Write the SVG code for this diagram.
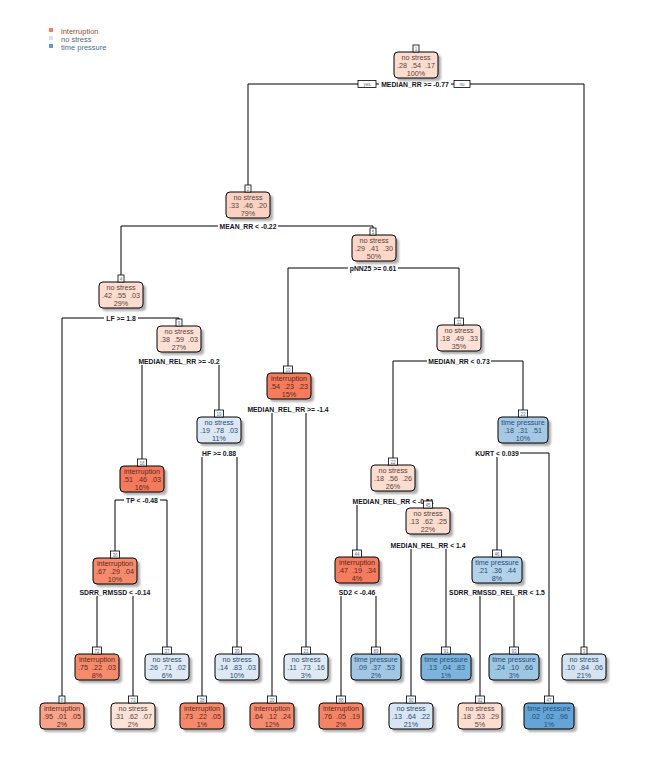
<svg xmlns="http://www.w3.org/2000/svg" width="647" height="775" viewBox="0 0 647 775">
<style>
.bx{stroke:#000;stroke-width:1}
.sh{fill:#9a9a9a;opacity:0.8;filter:url(#blur)}
.nb{fill:#fff;stroke:#000;stroke-width:0.8}
.nn{font-family:"Liberation Sans",Arial,sans-serif;font-size:4.5px;fill:#55709a;text-anchor:middle}
.t{font-family:"Liberation Sans",Arial,sans-serif;font-size:7.2px;text-anchor:middle;white-space:pre}
.ti{fill:#5b2a1c}.tn{fill:#5a4540}.tb{fill:#2b4c74}
.sp{font-family:"Liberation Sans",Arial,sans-serif;font-weight:bold;font-size:6.8px;text-anchor:middle;fill:#141428}
.ln{stroke:#000;stroke-width:1;fill:none}
.lb{fill:#fff}
.yn{font-family:"Liberation Sans",Arial,sans-serif;font-size:4.5px;fill:#55709a;text-anchor:middle}
.lg{font-family:"Liberation Sans",Arial,sans-serif;font-size:7.5px}
</style>
<defs>
<filter id="blur" x="-20%" y="-20%" width="140%" height="140%"><feGaussianBlur stdDeviation="1.3"/></filter>
</defs>
<rect width="647" height="775" fill="#fff"/>

<g id="legend">
<rect x="49" y="28" width="4" height="4" fill="#F47B5E"/>
<text class="lg" x="61" y="34" fill="#9A4A30">interruption</text>
<rect x="49" y="36" width="4" height="4" fill="#D4E3F2"/>
<text class="lg" x="61" y="42" fill="#5A6475">no stress</text>
<rect x="49" y="44" width="4" height="4" fill="#5A9ED6"/>
<text class="lg" x="61" y="50" fill="#3D6E9E">time pressure</text>
</g>

<g id="connectors">
<path class="ln" d="M248 84H584M248 84V185M584 84V647"/>
<path class="ln" d="M121 226H373M121 226V275M373 226V228"/>
<path class="ln" d="M62 318H179M62 318V696M179 318V319"/>
<path class="ln" d="M142 361H219M142 361V459M219 361V410"/>
<path class="ln" d="M115 500H167M115 500V551M167 500V647"/>
<path class="ln" d="M97 592H133M97 592V647M133 592V696"/>
<path class="ln" d="M202 453H237M202 453V696M237 453V647"/>
<path class="ln" d="M288 268H459M288 268V366M459 268V318"/>
<path class="ln" d="M272 409H306M272 409V696M306 409V647"/>
<path class="ln" d="M393 361H523M393 361V458M523 361V410"/>
<path class="ln" d="M357 501H428M357 501V550M428 501V501"/>
<path class="ln" d="M411 545H446M411 545V696M446 545V647"/>
<path class="ln" d="M341 592H376M341 592V696M376 592V647"/>
<path class="ln" d="M497 453H549M497 453V550M549 453V696"/>
<path class="ln" d="M480 592H514M480 592V696M514 592V647"/>

<rect class="lb" x="379" y="80" width="72" height="8"/>
<text class="sp" x="415" y="86.5">MEDIAN_RR &gt;= -0.77</text>
<rect class="nb" x="358" y="80.5" width="18" height="7"/>
<text class="yn" x="367" y="86">yes</text>
<rect class="nb" x="454" y="80.5" width="16" height="7"/>
<text class="yn" x="462" y="86">no</text>

<rect class="lb" x="218" y="222" width="60" height="8"/>
<text class="sp" x="248" y="228.5">MEAN_RR &lt; -0.22</text>
<rect class="lb" x="104" y="314" width="34" height="8"/>
<text class="sp" x="121" y="320.5">LF &gt;= 1.8</text>
<rect class="lb" x="136" y="357" width="86" height="8"/>
<text class="sp" x="179" y="363.5">MEDIAN_REL_RR &gt;= -0.2</text>
<rect class="lb" x="124" y="496" width="36" height="8"/>
<text class="sp" x="142" y="502.5">TP &lt; -0.48</text>
<rect class="lb" x="79" y="588" width="72" height="8"/>
<text class="sp" x="115" y="594.5">SDRR_RMSSD &lt; -0.14</text>
<rect class="lb" x="200" y="449" width="38" height="8"/>
<text class="sp" x="219" y="455.5">HF &gt;= 0.88</text>
<rect class="lb" x="348" y="264" width="50" height="8"/>
<text class="sp" x="373" y="270.5">pNN25 &gt;= 0.61</text>
<rect class="lb" x="245" y="405" width="86" height="8"/>
<text class="sp" x="288" y="411.5">MEDIAN_REL_RR &gt;= -1.4</text>
<rect class="lb" x="427" y="357" width="64" height="8"/>
<text class="sp" x="459" y="363.5">MEDIAN_RR &lt; 0.73</text>
<rect class="lb" x="351" y="497" width="84" height="8"/>
<text class="sp" x="393" y="503.5">MEDIAN_REL_RR &lt; -0.51</text>
<rect class="lb" x="389" y="541" width="78" height="8"/>
<text class="sp" x="428" y="547.5">MEDIAN_REL_RR &lt; 1.4</text>
<rect class="lb" x="337" y="588" width="40" height="8"/>
<text class="sp" x="357" y="594.5">SD2 &lt; -0.46</text>
<rect class="lb" x="474" y="449" width="46" height="8"/>
<text class="sp" x="497" y="455.5">KURT &lt; 0.039</text>
<rect class="lb" x="450" y="588" width="94" height="8"/>
<text class="sp" x="497" y="594.5">SDRR_RMSSD_REL_RR &lt; 1.5</text>
</g>

<g id="node1">
<rect class="sh" x="397" y="55" width="44" height="26" rx="4"/>
<rect class="bx" x="394" y="52" width="44" height="26" rx="4" fill="#FCDCCF"/>
<rect class="nb" x="413" y="45" width="6" height="7"/><text class="nn" x="416" y="50.5">1</text>
<text class="t tn" x="416" y="59.5">no stress</text><text class="t tn" x="416" y="67.5">.28  .54  .17</text><text class="t tn" x="416" y="75.5">100%</text>
</g>
<g id="node2">
<rect class="sh" x="229" y="195" width="44" height="26" rx="4"/>
<rect class="bx" x="226" y="192" width="44" height="26" rx="4" fill="#FBD2C2"/>
<rect class="nb" x="245" y="185" width="6" height="7"/><text class="nn" x="248" y="190.5">2</text>
<text class="t tn" x="248" y="199.5">no stress</text><text class="t tn" x="248" y="207.5">.33  .46  .20</text><text class="t tn" x="248" y="215.5">79%</text>
</g>
<g id="node3">
<rect class="sh" x="565" y="657" width="44" height="26" rx="4"/>
<rect class="bx" x="562" y="654" width="44" height="26" rx="4" fill="#D6E4F2"/>
<rect class="nb" x="581" y="647" width="6" height="7"/><text class="nn" x="584" y="652.5">3</text>
<text class="t tb" x="584" y="661.5">no stress</text><text class="t tb" x="584" y="669.5">.10  .84  .06</text><text class="t tb" x="584" y="677.5">21%</text>
</g>
<g id="node4">
<rect class="sh" x="102" y="285" width="44" height="26" rx="4"/>
<rect class="bx" x="99" y="282" width="44" height="26" rx="4" fill="#FCDCCE"/>
<rect class="nb" x="118" y="275" width="6" height="7"/><text class="nn" x="121" y="280.5">4</text>
<text class="t tn" x="121" y="289.5">no stress</text><text class="t tn" x="121" y="297.5">.42  .55  .03</text><text class="t tn" x="121" y="305.5">29%</text>
</g>
<g id="node5">
<rect class="sh" x="355" y="238" width="44" height="26" rx="4"/>
<rect class="bx" x="352" y="235" width="44" height="26" rx="4" fill="#FCD6C6"/>
<rect class="nb" x="370" y="228" width="6" height="7"/><text class="nn" x="373" y="233.5">5</text>
<text class="t tn" x="374" y="242.5">no stress</text><text class="t tn" x="374" y="250.5">.29  .41  .30</text><text class="t tn" x="374" y="258.5">50%</text>
</g>
<g id="node8">
<rect class="sh" x="43" y="706" width="44" height="26" rx="4"/>
<rect class="bx" x="40" y="703" width="44" height="26" rx="4" fill="#F8A48B"/>
<rect class="nb" x="59" y="696" width="6" height="7"/><text class="nn" x="62" y="701.5">8</text>
<text class="t ti" x="62" y="710.5">interruption</text><text class="t ti" x="62" y="718.5">.95  .01  .05</text><text class="t ti" x="62" y="726.5">2%</text>
</g>
<g id="node9">
<rect class="sh" x="160" y="329" width="44" height="26" rx="4"/>
<rect class="bx" x="157" y="326" width="44" height="26" rx="4" fill="#FDE0D4"/>
<rect class="nb" x="176" y="319" width="6" height="7"/><text class="nn" x="179" y="324.5">9</text>
<text class="t tn" x="179" y="333.5">no stress</text><text class="t tn" x="179" y="341.5">.38  .59  .03</text><text class="t tn" x="179" y="349.5">27%</text>
</g>
<g id="node10">
<rect class="sh" x="270" y="376" width="44" height="26" rx="4"/>
<rect class="bx" x="267" y="373" width="44" height="26" rx="4" fill="#F47B5E"/>
<rect class="nb" x="283.5" y="366" width="9" height="7"/><text class="nn" x="288" y="371.5">10</text>
<text class="t ti" x="289" y="380.5">interruption</text><text class="t ti" x="289" y="388.5">.54  .23  .23</text><text class="t ti" x="289" y="396.5">15%</text>
</g>
<g id="node11">
<rect class="sh" x="440" y="328" width="44" height="26" rx="4"/>
<rect class="bx" x="437" y="325" width="44" height="26" rx="4" fill="#FDE1D6"/>
<rect class="nb" x="454.5" y="318" width="9" height="7"/><text class="nn" x="459" y="323.5">11</text>
<text class="t tn" x="459" y="332.5">no stress</text><text class="t tn" x="459" y="340.5">.18  .49  .33</text><text class="t tn" x="459" y="348.5">35%</text>
</g>
<g id="node18">
<rect class="sh" x="123" y="469" width="44" height="26" rx="4"/>
<rect class="bx" x="120" y="466" width="44" height="26" rx="4" fill="#F47A5D"/>
<rect class="nb" x="137.5" y="459" width="9" height="7"/><text class="nn" x="142" y="464.5">18</text>
<text class="t ti" x="142" y="473.5">interruption</text><text class="t ti" x="142" y="481.5">.51  .46  .03</text><text class="t ti" x="142" y="489.5">16%</text>
</g>
<g id="node19">
<rect class="sh" x="200" y="420" width="44" height="26" rx="4"/>
<rect class="bx" x="197" y="417" width="44" height="26" rx="4" fill="#DCE7F4"/>
<rect class="nb" x="214.5" y="410" width="9" height="7"/><text class="nn" x="219" y="415.5">19</text>
<text class="t tb" x="219" y="424.5">no stress</text><text class="t tb" x="219" y="432.5">.19  .78  .03</text><text class="t tb" x="219" y="440.5">11%</text>
</g>
<g id="node20">
<rect class="sh" x="253" y="706" width="44" height="26" rx="4"/>
<rect class="bx" x="250" y="703" width="44" height="26" rx="4" fill="#F58C70"/>
<rect class="nb" x="267.5" y="696" width="9" height="7"/><text class="nn" x="272" y="701.5">20</text>
<text class="t ti" x="272" y="710.5">interruption</text><text class="t ti" x="272" y="718.5">.64  .12  .24</text><text class="t ti" x="272" y="726.5">12%</text>
</g>
<g id="node21">
<rect class="sh" x="287" y="657" width="44" height="26" rx="4"/>
<rect class="bx" x="284" y="654" width="44" height="26" rx="4" fill="#DFE9F4"/>
<rect class="nb" x="301.5" y="647" width="9" height="7"/><text class="nn" x="306" y="652.5">21</text>
<text class="t tb" x="306" y="661.5">no stress</text><text class="t tb" x="306" y="669.5">.11  .73  .16</text><text class="t tb" x="306" y="677.5">3%</text>
</g>
<g id="node22">
<rect class="sh" x="374" y="468" width="44" height="26" rx="4"/>
<rect class="bx" x="371" y="465" width="44" height="26" rx="4" fill="#FCDCCE"/>
<rect class="nb" x="388.5" y="458" width="9" height="7"/><text class="nn" x="393" y="463.5">22</text>
<text class="t tn" x="393" y="472.5">no stress</text><text class="t tn" x="393" y="480.5">.18  .56  .26</text><text class="t tn" x="393" y="488.5">26%</text>
</g>
<g id="node23">
<rect class="sh" x="501" y="420" width="50" height="26" rx="4"/>
<rect class="bx" x="498" y="417" width="50" height="26" rx="4" fill="#A5C9E5"/>
<rect class="nb" x="518.5" y="410" width="9" height="7"/><text class="nn" x="523" y="415.5">23</text>
<text class="t tb" x="523" y="424.5">time pressure</text><text class="t tb" x="523" y="432.5">.18  .31  .51</text><text class="t tb" x="523" y="440.5">10%</text>
</g>
<g id="node36">
<rect class="sh" x="96" y="561" width="44" height="26" rx="4"/>
<rect class="bx" x="93" y="558" width="44" height="26" rx="4" fill="#F58A6D"/>
<rect class="nb" x="110.5" y="551" width="9" height="7"/><text class="nn" x="115" y="556.5">36</text>
<text class="t ti" x="115" y="565.5">interruption</text><text class="t ti" x="115" y="573.5">.67  .29  .04</text><text class="t ti" x="115" y="581.5">10%</text>
</g>
<g id="node37">
<rect class="sh" x="148" y="657" width="44" height="26" rx="4"/>
<rect class="bx" x="145" y="654" width="44" height="26" rx="4" fill="#E0EAF5"/>
<rect class="nb" x="162.5" y="647" width="9" height="7"/><text class="nn" x="167" y="652.5">37</text>
<text class="t tb" x="167" y="661.5">no stress</text><text class="t tb" x="167" y="669.5">.26  .71  .02</text><text class="t tb" x="167" y="677.5">6%</text>
</g>
<g id="node38">
<rect class="sh" x="183" y="706" width="44" height="26" rx="4"/>
<rect class="bx" x="180" y="703" width="44" height="26" rx="4" fill="#F5896B"/>
<rect class="nb" x="197.5" y="696" width="9" height="7"/><text class="nn" x="202" y="701.5">38</text>
<text class="t ti" x="202" y="710.5">interruption</text><text class="t ti" x="202" y="718.5">.73  .22  .05</text><text class="t ti" x="202" y="726.5">1%</text>
</g>
<g id="node39">
<rect class="sh" x="218" y="657" width="44" height="26" rx="4"/>
<rect class="bx" x="215" y="654" width="44" height="26" rx="4" fill="#DCE8F4"/>
<rect class="nb" x="232.5" y="647" width="9" height="7"/><text class="nn" x="237" y="652.5">39</text>
<text class="t tb" x="237" y="661.5">no stress</text><text class="t tb" x="237" y="669.5">.14  .83  .03</text><text class="t tb" x="237" y="677.5">10%</text>
</g>
<g id="node44">
<rect class="sh" x="338" y="560" width="44" height="26" rx="4"/>
<rect class="bx" x="335" y="557" width="44" height="26" rx="4" fill="#F47B5E"/>
<rect class="nb" x="352.5" y="550" width="9" height="7"/><text class="nn" x="357" y="555.5">44</text>
<text class="t ti" x="357" y="564.5">interruption</text><text class="t ti" x="357" y="572.5">.47  .19  .34</text><text class="t ti" x="357" y="580.5">4%</text>
</g>
<g id="node45">
<rect class="sh" x="409" y="511" width="44" height="26" rx="4"/>
<rect class="bx" x="406" y="508" width="44" height="26" rx="4" fill="#FCDCCE"/>
<rect class="nb" x="423.5" y="501" width="9" height="7"/><text class="nn" x="428" y="506.5">45</text>
<text class="t tn" x="428" y="515.5">no stress</text><text class="t tn" x="428" y="523.5">.13  .62  .25</text><text class="t tn" x="428" y="531.5">22%</text>
</g>
<g id="node46">
<rect class="sh" x="475" y="560" width="50" height="26" rx="4"/>
<rect class="bx" x="472" y="557" width="50" height="26" rx="4" fill="#B3D2EA"/>
<rect class="nb" x="492.5" y="550" width="9" height="7"/><text class="nn" x="497" y="555.5">46</text>
<text class="t tb" x="497" y="564.5">time pressure</text><text class="t tb" x="497" y="572.5">.21  .36  .44</text><text class="t tb" x="497" y="580.5">8%</text>
</g>
<g id="node47">
<rect class="sh" x="527" y="706" width="50" height="26" rx="4"/>
<rect class="bx" x="524" y="703" width="50" height="26" rx="4" fill="#64A4D7"/>
<rect class="nb" x="544.5" y="696" width="9" height="7"/><text class="nn" x="549" y="701.5">47</text>
<text class="t tb" x="549" y="710.5">time pressure</text><text class="t tb" x="549" y="718.5">.02  .02  .96</text><text class="t tb" x="549" y="726.5">1%</text>
</g>
<g id="node72">
<rect class="sh" x="78" y="657" width="44" height="26" rx="4"/>
<rect class="bx" x="75" y="654" width="44" height="26" rx="4" fill="#F58A6D"/>
<rect class="nb" x="92.5" y="647" width="9" height="7"/><text class="nn" x="97" y="652.5">72</text>
<text class="t ti" x="97" y="661.5">interruption</text><text class="t ti" x="97" y="669.5">.75  .22  .03</text><text class="t ti" x="97" y="677.5">8%</text>
</g>
<g id="node73">
<rect class="sh" x="114" y="706" width="44" height="26" rx="4"/>
<rect class="bx" x="111" y="703" width="44" height="26" rx="4" fill="#FDE2D7"/>
<rect class="nb" x="128.5" y="696" width="9" height="7"/><text class="nn" x="133" y="701.5">73</text>
<text class="t tn" x="133" y="710.5">no stress</text><text class="t tn" x="133" y="718.5">.31  .62  .07</text><text class="t tn" x="133" y="726.5">2%</text>
</g>
<g id="node88">
<rect class="sh" x="322" y="706" width="44" height="26" rx="4"/>
<rect class="bx" x="319" y="703" width="44" height="26" rx="4" fill="#F58467"/>
<rect class="nb" x="336.5" y="696" width="9" height="7"/><text class="nn" x="341" y="701.5">88</text>
<text class="t ti" x="341" y="710.5">interruption</text><text class="t ti" x="341" y="718.5">.76  .05  .19</text><text class="t ti" x="341" y="726.5">2%</text>
</g>
<g id="node89">
<rect class="sh" x="354" y="657" width="50" height="26" rx="4"/>
<rect class="bx" x="351" y="654" width="50" height="26" rx="4" fill="#A2C7E4"/>
<rect class="nb" x="371.5" y="647" width="9" height="7"/><text class="nn" x="376" y="652.5">89</text>
<text class="t tb" x="376" y="661.5">time pressure</text><text class="t tb" x="376" y="669.5">.09  .37  .53</text><text class="t tb" x="376" y="677.5">2%</text>
</g>
<g id="node90">
<rect class="sh" x="392" y="706" width="44" height="26" rx="4"/>
<rect class="bx" x="389" y="703" width="44" height="26" rx="4" fill="#D8E6F3"/>
<rect class="nb" x="406.5" y="696" width="9" height="7"/><text class="nn" x="411" y="701.5">90</text>
<text class="t tb" x="411" y="710.5">no stress</text><text class="t tb" x="411" y="718.5">.13  .64  .22</text><text class="t tb" x="411" y="726.5">21%</text>
</g>
<g id="node91">
<rect class="sh" x="424" y="657" width="50" height="26" rx="4"/>
<rect class="bx" x="421" y="654" width="50" height="26" rx="4" fill="#7DB4DD"/>
<rect class="nb" x="441.5" y="647" width="9" height="7"/><text class="nn" x="446" y="652.5">91</text>
<text class="t tb" x="446" y="661.5">time pressure</text><text class="t tb" x="446" y="669.5">.13  .04  .83</text><text class="t tb" x="446" y="677.5">1%</text>
</g>
<g id="node92">
<rect class="sh" x="461" y="706" width="44" height="26" rx="4"/>
<rect class="bx" x="458" y="703" width="44" height="26" rx="4" fill="#FDDDD0"/>
<rect class="nb" x="475.5" y="696" width="9" height="7"/><text class="nn" x="480" y="701.5">92</text>
<text class="t tn" x="480" y="710.5">no stress</text><text class="t tn" x="480" y="718.5">.18  .53  .29</text><text class="t tn" x="480" y="726.5">5%</text>
</g>
<g id="node93">
<rect class="sh" x="492" y="657" width="50" height="26" rx="4"/>
<rect class="bx" x="489" y="654" width="50" height="26" rx="4" fill="#9DC6E3"/>
<rect class="nb" x="509.5" y="647" width="9" height="7"/><text class="nn" x="514" y="652.5">93</text>
<text class="t tb" x="514" y="661.5">time pressure</text><text class="t tb" x="514" y="669.5">.24  .10  .66</text><text class="t tb" x="514" y="677.5">3%</text>
</g>
</svg>
